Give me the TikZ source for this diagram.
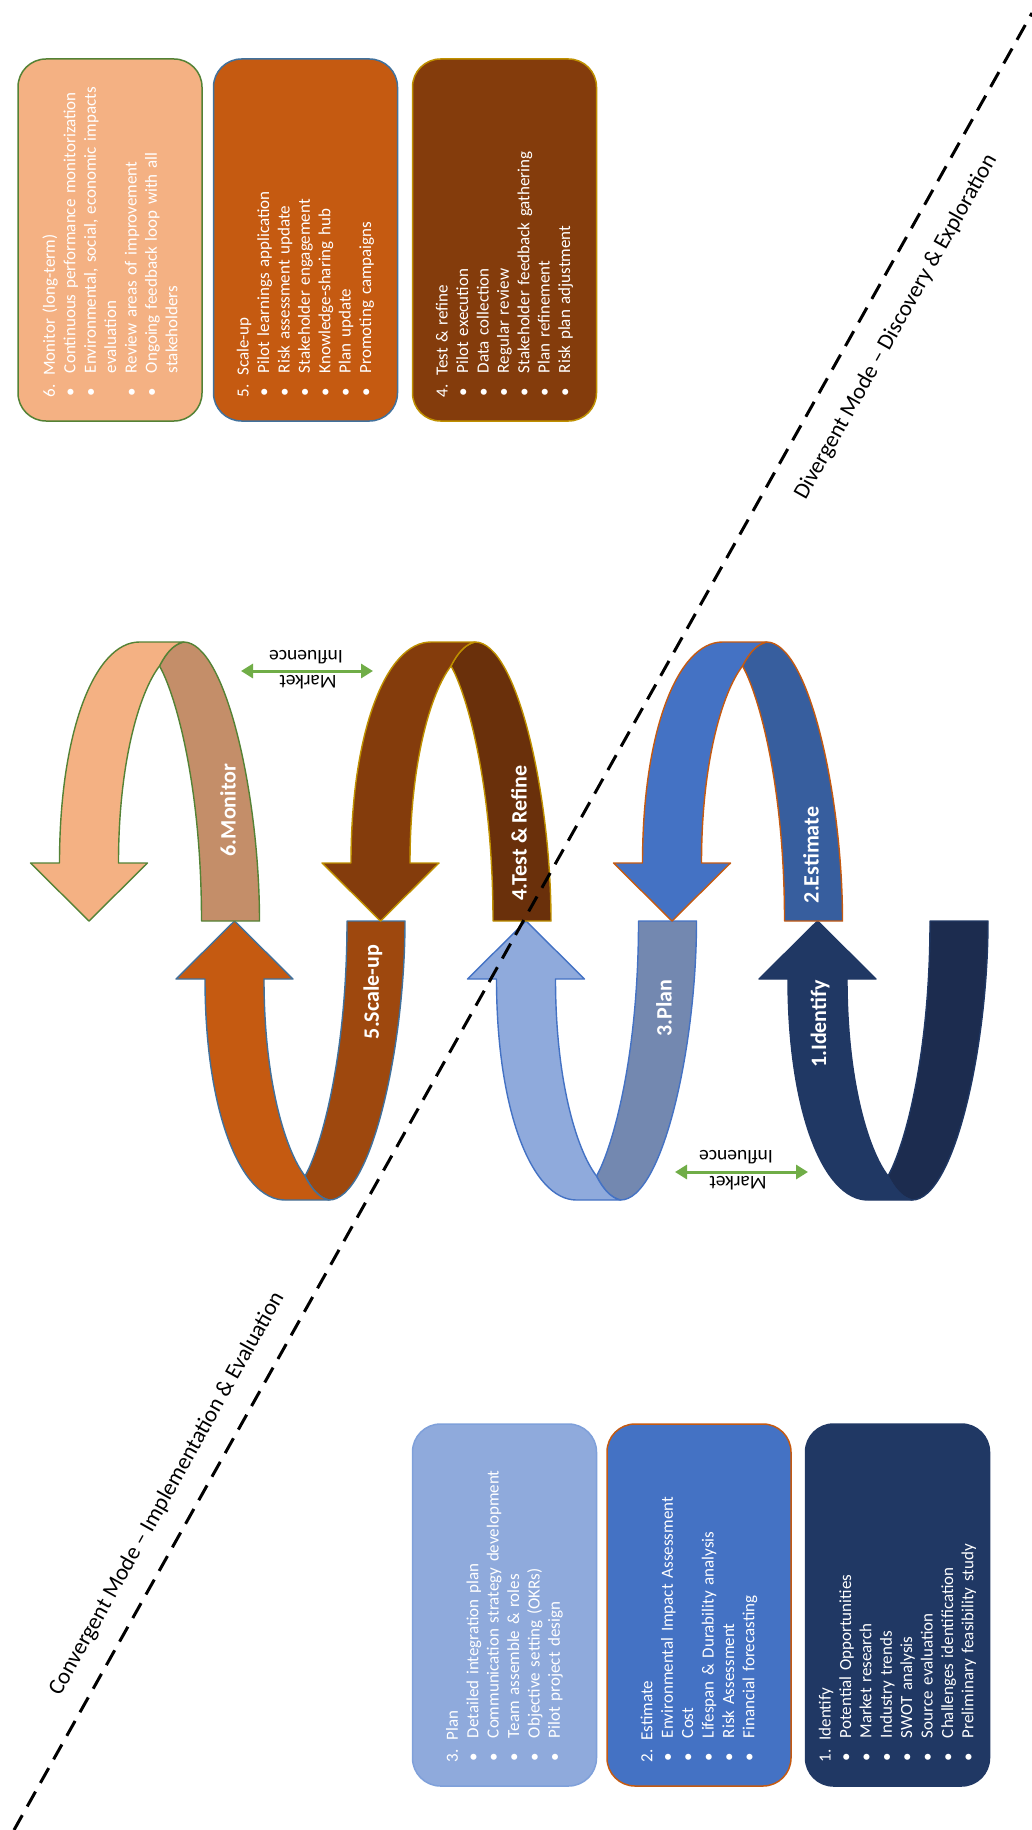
\documentclass[tikz,border=0pt]{standalone}
\usepackage{fontspec}
\setmainfont{Carlito}
\usetikzlibrary{arrows.meta}

\definecolor{peach}{HTML}{F4B183}
\definecolor{tanback}{HTML}{C48E69}
\definecolor{leafline}{HTML}{548235}
\definecolor{rust}{HTML}{C55A11}
\definecolor{rustdk}{HTML}{9E480E}
\definecolor{steel}{HTML}{41719C}
\definecolor{brownfr}{HTML}{843C0C}
\definecolor{browndk}{HTML}{6A300B}
\definecolor{goldline}{HTML}{BF9000}
\definecolor{midblue}{HTML}{4472C4}
\definecolor{midbluedk}{HTML}{375E9E}
\definecolor{paleblue}{HTML}{8FAADC}
\definecolor{paleblueln}{HTML}{7FA0DA}
\definecolor{greyblue}{HTML}{7388B0}
\definecolor{navy}{HTML}{203864}
\definecolor{navydk}{HTML}{1C2C4F}
\definecolor{mktgreen}{HTML}{70AD47}

% bullet and hanging indent for the list boxes
\newcommand\bul{\makebox[24pt][l]{\hspace{1pt}\textbullet}}
\newcommand\cont{\hspace*{24pt}}

% one twisted U-shaped ribbon arrow; #1 origin x, #2 = 1 (opens up) or -1 (opens down)
\newcommand\ribbon[5]{%
  \begin{scope}[shift={(#1,921)}, yscale=#2]
    \filldraw[fill=#4, draw=#5, ribbonedge]
      (142,0) -- (200,0) .. controls (200,126) and (166,279) .. (124,279)
      .. controls (115,277) and (107,269) .. (100,255)
      .. controls (115,229) and (142,139) .. (142,0) -- cycle;
    \filldraw[fill=#3, draw=#5, ribbonedge]
      (-29,58) -- (29.5,0) -- (88,58) -- (59,58)
      .. controls (59,159) and (80,229) .. (100,255)
      .. controls (107,269) and (115,277) .. (124,279) -- (80,279)
      .. controls (35,279) and (0,189) .. (0,58) -- cycle;
  \end{scope}}

\tikzset{
  infobox/.style={rotate=90, rounded corners=28pt, line width=1.5pt, text=white,
    inner xsep=24pt, inner ysep=0pt, minimum height=184pt, text width=314pt,
    align=left, font=\fontsize{17}{20.4}\selectfont},
  ribbonedge/.style={line width=1.4pt, line join=round},
  steplabel/.style={text=white, font=\fontsize{22}{26}\selectfont\bfseries,
    inner sep=0pt, rotate=90},
  mktlabel/.style={font=\fontsize{19.5}{23}\selectfont, inner sep=0pt, rotate=180},
  mktarrow/.style={draw=mktgreen, line width=3pt,
    {Triangle[width=14pt,length=12pt]}-{Triangle[width=14pt,length=12pt]}},
  modeline/.style={line width=3pt, dash pattern=on 17pt off 10pt},
  modelabel/.style={font=\fontsize{22.8}{27}\selectfont, rotate=60.74, inner sep=0pt}
}

\begin{document}
\begin{tikzpicture}[x=1pt,y=-1pt]
\useasboundingbox (0,0) rectangle (1032,1830);
\fill[white] (0,0) rectangle (1032,1830);

% activity lists, top row
\node[infobox, fill=peach, draw=leafline] (b6) at (110,240) {6. Monitor (long-term)\\
  \bul Continuous performance monitorization\\
  \bul Environmental, social, economic impacts\\
  \cont evaluation\\
  \bul Review areas of improvement\\
  \bul Ongoing feedback loop with all\\
  \cont stakeholders};
\node[infobox, fill=rust, draw=steel] (b5) at (305.5,240) {5. Scale-up\\
  \bul Pilot learnings application\\
  \bul Risk assessment update\\
  \bul Stakeholder engagement\\
  \bul Knowledge-sharing hub\\
  \bul Plan update\\
  \bul Promoting campaigns};
\node[infobox, fill=brownfr, draw=goldline] (b4) at (504.5,240) {4. Test \& refine\\
  \bul Pilot execution\\
  \bul Data collection\\
  \bul Regular review\\
  \bul Stakeholder feedback gathering\\
  \bul Plan refinement\\
  \bul Risk plan adjustment};

% activity lists, bottom row
\node[infobox, fill=paleblue, draw=paleblueln] (b3) at (504.5,1605) {3. Plan\\
  \bul Detailed integration plan\\
  \bul Communication strategy development\\
  \bul Team assemble \& roles\\
  \bul Objective setting (OKRs)\\
  \bul Pilot project design};
\node[infobox, fill=midblue, draw=rust] (b2) at (699,1605) {2. Estimate\\
  \bul Environmental Impact Assessment\\
  \bul Cost\\
  \bul Lifespan \& Durability analysis\\
  \bul Risk Assessment\\
  \bul Financial forecasting};
\node[infobox, fill=navy, draw=navy] (b1) at (897.5,1605) {1. Identify\\
  \bul Potential Opportunities\\
  \bul Market research\\
  \bul Industry trends\\
  \bul SWOT analysis\\
  \bul Source evaluation\\
  \bul Challenges identification\\
  \bul Preliminary feasibility study};

% ribbon arrows
\ribbon{205}{1}{rust}{rustdk}{steel}
\ribbon{496.5}{1}{paleblue}{greyblue}{midblue}
\ribbon{788}{1}{navy}{navydk}{navy}
\ribbon{59.5}{-1}{peach}{tanback}{leafline}
\ribbon{351}{-1}{brownfr}{browndk}{goldline}
\ribbon{642.5}{-1}{midblue}{midbluedk}{rust}

% step names
\node[steplabel] (s6) at (228,810) {6.Monitor};
\node[steplabel] (s4) at (519,833) {4.Test \& Refine};
\node[steplabel] (s2) at (811,855) {2.Estimate};
\node[steplabel] (s5) at (373,992) {5.Scale-up};
\node[steplabel] (s3) at (664,1008) {3.Plan};
\node[steplabel] (s1) at (820,1024) {1.Identify};

% market influence links
\coordinate (m1l) at (241,671);
\coordinate (m1r) at (373,671);
\draw[mktarrow] (m1l) -- (m1r);
\node[mktlabel] (m1a) at (308,682.5) {Market};
\node[mktlabel] (m1b) at (306,657.5) {Influence};

\coordinate (m2l) at (675,1172);
\coordinate (m2r) at (808,1172);
\draw[mktarrow] (m2l) -- (m2r);
\node[mktlabel] (m2a) at (738,1183.5) {Market};
\node[mktlabel] (m2b) at (736,1157.5) {Influence};

% mode divider
\coordinate (dtop) at (1032,13);
\coordinate (dbot) at (14,1830);
\draw[modeline] (dbot) -- (dtop);
\node[modelabel] (divlbl) at (896,327) {Divergent Mode – Discovery \& Exploration};
\node[modelabel] (convlbl) at (167,1494) {Convergent Mode – Implementation \& Evaluation};
\end{tikzpicture}
\end{document}
